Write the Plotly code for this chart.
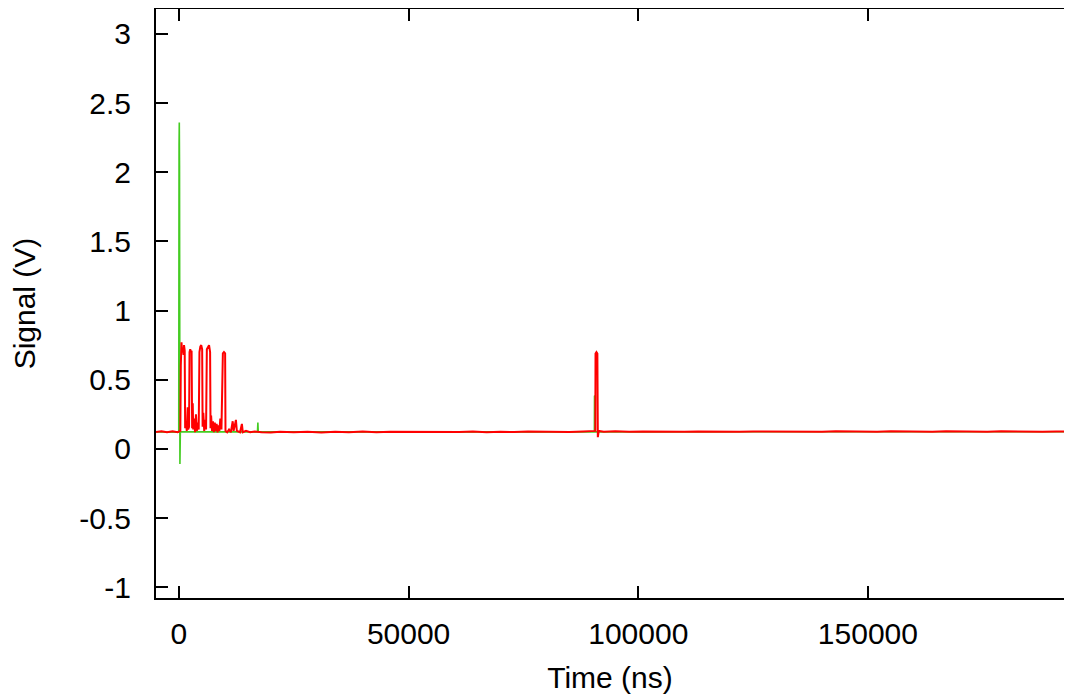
import plotly.graph_objects as go

# red channel (ns, V)
red_t = [-5000, -3800, -2600, -1400, -300, 300,
         400, 550, 700, 850, 1000, 1100, 1250, 1350, 1500, 1700, 1900, 2000,
         2200, 2300, 2450, 2600, 2750, 2870, 3000, 3100, 3300, 3500, 3700, 3900, 4100, 4300,
         4460, 4650, 4850, 5050, 5150, 5300, 5500, 5700, 5900,
         6070, 6300, 6550, 6780, 6870, 7000, 7200, 7400, 7600, 7800, 8000, 8200, 8400, 8600,
         8800, 9000, 9250,
         9560, 9800, 10050, 10130, 10500, 10900, 11300, 11700, 11900, 12400, 12600, 13300,
         13700, 13900, 14600, 15500, 16500, 18000, 20000, 22000, 25000, 28000, 31000, 34000,
         37000, 40000, 43000, 46000, 49000, 52000, 55000, 58000, 61000, 64000, 67000, 70000,
         73000, 76000, 79000, 82000, 85000, 88000, 90400,
         90650, 90700, 90900, 91100, 91200, 91400, 92500, 95000, 98000, 101000, 104000,
         107000, 110000, 113000, 116000, 119000, 122000, 125000, 128000, 131000, 134000,
         137000, 140000, 143000, 146000, 149000, 152000, 155000, 158000, 161000, 164000,
         167000, 170000, 173000, 176000, 179000, 182000, 185000, 188000, 191000, 194400]
red_v = [0.122, 0.128, 0.120, 0.127, 0.121, 0.130,
         0.60, 0.77, 0.70, 0.72, 0.68, 0.75, 0.71, 0.15, 0.20, 0.13, 0.30, 0.14,
         0.16, 0.70, 0.72, 0.70, 0.71, 0.15, 0.33, 0.14, 0.22, 0.12, 0.25, 0.13, 0.19, 0.14,
         0.70, 0.74, 0.75, 0.72, 0.16, 0.26, 0.13, 0.21, 0.14,
         0.72, 0.74, 0.75, 0.70, 0.15, 0.24, 0.13, 0.20, 0.12, 0.19, 0.13, 0.18, 0.12, 0.17,
         0.13, 0.22, 0.14,
         0.69, 0.70, 0.69, 0.13, 0.12, 0.14, 0.12, 0.20, 0.13, 0.21, 0.13, 0.12,
         0.18, 0.12, 0.13, 0.12, 0.125, 0.121, 0.118, 0.124, 0.120, 0.123, 0.119, 0.124,
         0.121, 0.125, 0.120, 0.123, 0.122, 0.126, 0.121, 0.124, 0.122, 0.125, 0.121, 0.124,
         0.122, 0.126, 0.123, 0.125, 0.122, 0.126, 0.125,
         0.13, 0.69, 0.70, 0.69, 0.085, 0.13, 0.124, 0.127, 0.123, 0.126, 0.124,
         0.127, 0.123, 0.126, 0.124, 0.127, 0.123, 0.126, 0.125, 0.127, 0.124,
         0.126, 0.123, 0.127, 0.125, 0.126, 0.124, 0.127, 0.125, 0.126, 0.124,
         0.127, 0.125, 0.126, 0.124, 0.127, 0.125, 0.126, 0.124, 0.126, 0.125]

# green channel (ns, V)
green_t = [-5000, -50, 20, 70, 120, 160, 210, 300, 17100, 17180, 17260,
           90450, 90480, 90620, 90650, 194400]
green_v = [0.122, 0.12, 2.20, 2.36, 2.05, 1.05, -0.11, 0.123, 0.123, 0.19, 0.123,
           0.123, 0.385, 0.38, 0.123, 0.124]

x_ticks = [0, 50000, 100000, 150000]
y_ticks = [-1, -0.5, 0, 0.5, 1, 1.5, 2, 2.5, 3]

font = dict(family='Liberation Sans, Arial, sans-serif', size=30, color='black')

fig = go.Figure()
fig.add_trace(go.Scatter(x=green_t, y=green_v, mode='lines',
                         line=dict(color='#44cc22', width=1.6), showlegend=False))
fig.add_trace(go.Scatter(x=red_t, y=red_v, mode='lines',
                         line=dict(color='#ff0000', width=2), showlegend=False))

axis_common = dict(ticks='inside', ticklen=12, tickwidth=2, tickcolor='black',
                   showgrid=False, zeroline=False, tickfont=font, automargin=False)

# page body has an 8px margin, so the figure is offset to match the reference frame
fig.update_layout(
    width=1056, height=698,
    margin=dict(l=148, r=0, t=1, b=108),
    plot_bgcolor='white', paper_bgcolor='white',
    font=font,
    xaxis=dict(range=[-5000, 192700], tickvals=x_ticks,
               ticktext=[str(v) for v in x_ticks],
               showline=True, linewidth=2, linecolor='black', mirror='ticks',
               ticklabelstandoff=8,
               title=dict(text='Time (ns)', font=font, standoff=18),
               **axis_common),
    yaxis=dict(range=[-1.078, 3.18], tickvals=y_ticks,
               ticktext=[f'{v:g}' for v in y_ticks],
               showline=True, linewidth=2, linecolor='black',
               ticklabelstandoff=17,
               title=dict(text='Signal (V)', font=font, standoff=36),
               **axis_common),
    yaxis2=dict(overlaying='y', side='right', range=[-1.078, 3.18], tickvals=y_ticks,
                showticklabels=False, showline=False, **axis_common),
)

fig.write_html("out.html")
